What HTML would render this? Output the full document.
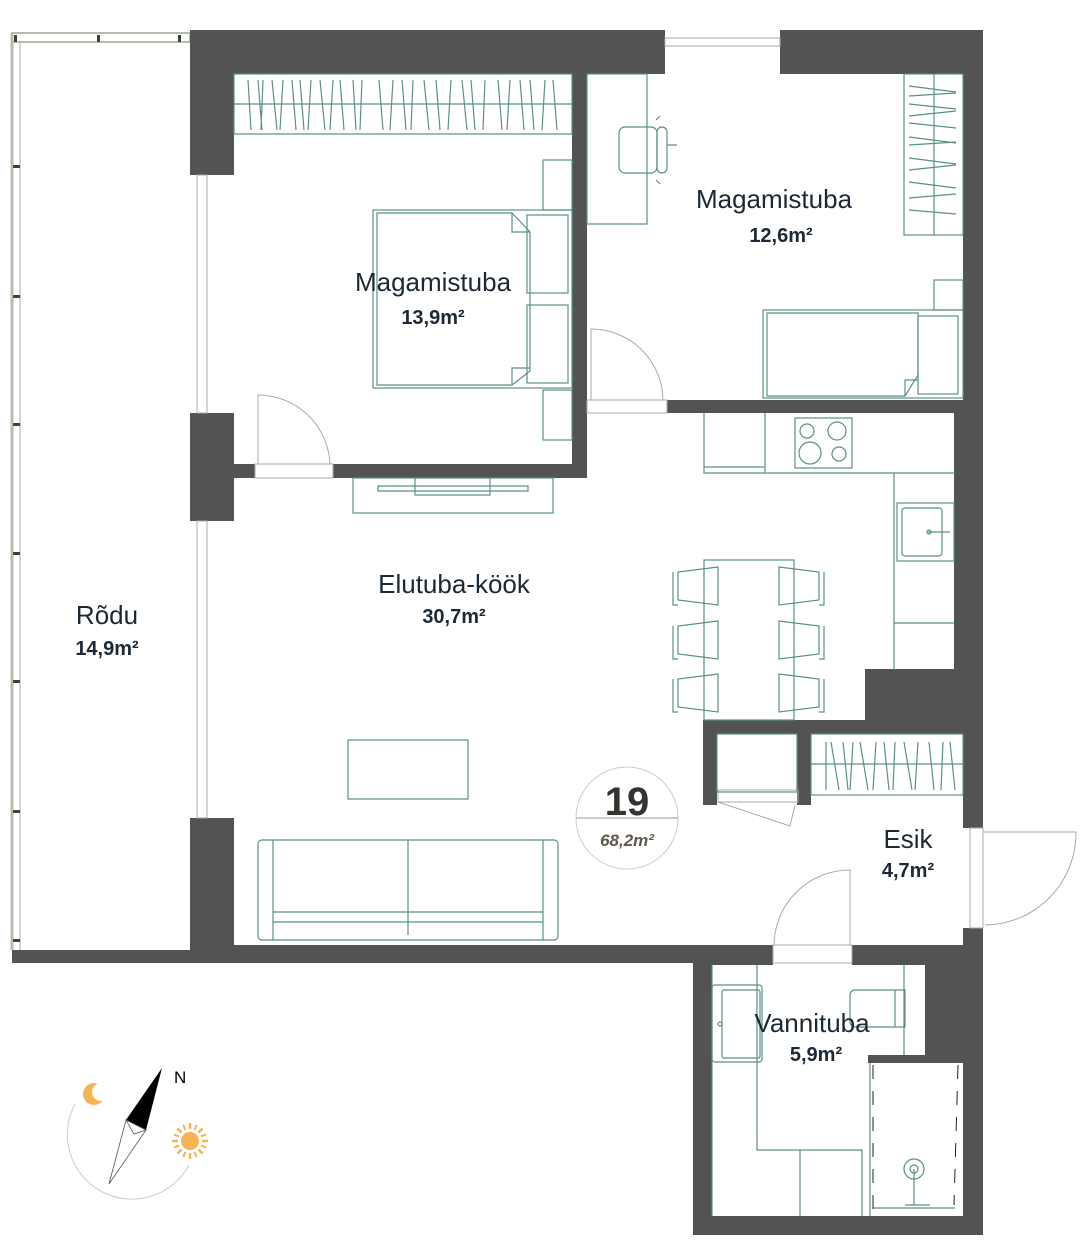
<!DOCTYPE html>
<html><head><meta charset="utf-8"><style>
html,body{margin:0;padding:0;background:#fff;}
svg{display:block;}
.w{fill:#535353;}
.f{fill:none;stroke:#5a8f88;stroke-width:1.2;}
.g{fill:none;stroke:#aaa;stroke-width:1;}
.t{font-family:"Liberation Sans",sans-serif;fill:#1c2833;}
</style></head><body>
<svg width="1089" height="1246" viewBox="0 0 1089 1246" xmlns="http://www.w3.org/2000/svg">
<!-- balcony -->
<rect x="12" y="33" width="178" height="9" fill="none" stroke="#b8bcb0" stroke-width="2"/>
<line x1="12" y1="33" x2="12" y2="950" stroke="#b8bcb0" stroke-width="3"/>
<line x1="20" y1="42" x2="20" y2="950" stroke="#aaa" stroke-width="1"/>
<g fill="#2f4a32">
<rect x="14" y="35" width="3" height="7"/><rect x="97" y="35" width="3" height="7"/><rect x="178" y="35" width="3" height="7"/>
<rect x="13" y="165" width="7" height="3"/><rect x="13" y="295" width="7" height="3"/><rect x="13" y="423" width="7" height="3"/><rect x="13" y="552" width="7" height="3"/><rect x="13" y="680" width="7" height="3"/><rect x="13" y="810" width="7" height="3"/><rect x="13" y="939" width="7" height="3"/>
</g>
<!-- walls -->
<rect class="w" x="12" y="950" width="190" height="13"/>
<rect class="w" x="190" y="30" width="475" height="44"/>
<rect class="w" x="780" y="30" width="203" height="44"/>
<rect class="w" x="190" y="30" width="44" height="145"/>
<rect class="w" x="190" y="413" width="44" height="108"/>
<rect class="w" x="190" y="818" width="44" height="145"/>
<rect class="w" x="234" y="945" width="539" height="18"/>
<rect class="w" x="852" y="945" width="131" height="20"/>
<rect class="w" x="693" y="945" width="80" height="20"/>
<rect class="w" x="963" y="30" width="20" height="798"/>
<rect class="w" x="963" y="928" width="20" height="307"/>
<rect class="w" x="954" y="400" width="29" height="320"/>
<rect class="w" x="865" y="669" width="118" height="51"/>
<rect class="w" x="693" y="945" width="19" height="290"/>
<rect class="w" x="693" y="1216" width="290" height="19"/>
<rect class="w" x="572" y="74" width="15" height="404"/>
<rect class="w" x="234" y="464" width="21" height="14"/>
<rect class="w" x="333" y="464" width="254" height="14"/>
<rect class="w" x="667" y="400" width="296" height="13"/>
<rect class="w" x="703" y="720" width="260" height="14"/>
<rect class="w" x="703" y="720" width="14" height="85"/>
<rect class="w" x="797" y="720" width="14" height="85"/>
<rect class="w" x="925" y="965" width="38" height="90"/>
<rect class="w" x="868" y="1055" width="95" height="8"/>
<!-- windows -->
<rect class="g" x="665" y="38" width="115" height="8"/>
<rect class="g" x="197" y="175" width="10" height="238"/>
<rect class="g" x="197" y="521" width="10" height="297"/>
<!-- doors -->
<g class="g">
<rect x="255" y="464" width="78" height="14"/><path d="M258 464V395A72 72 0 0 1 330 464"/>
<rect x="587" y="400" width="80" height="13"/><path d="M591 400V329A72 72 0 0 1 663 400"/>
<rect x="773" y="945" width="79" height="18"/><path d="M774 945A76 76 0 0 1 850 870V945"/>
<rect x="970" y="828" width="13" height="100"/><path d="M983 832H1076A92 92 0 0 1 985 925"/>
<rect x="718" y="790" width="80" height="12"/><path d="M718 802L790 826L795 805"/>
</g>
<!-- bedroom1 -->
<g class="f">
<rect x="234" y="74" width="338" height="60"/><line x1="234" y1="104" x2="572" y2="104"/>
<path d="M248 80l3 50M258 80l4 50M263 80l-2 50M272 80l5 50M283 80l-3 50M292 80l4 50M300 80l4 50M311 80l-3 50M320 80l5 50M333 80l-3 50M340 80l4 50M353 80l3 50M362 80l-2 50M379 80l4 50M393 80l-3 50M402 80l4 50M413 80l-2 50M424 80l5 50M436 80l4 50M451 80l-3 50M462 80l5 50M471 80l4 50M485 80l-2 50M498 80l4 50M510 80l-3 50M520 80l4 50M530 80l4 50M545 80l-3 50M553 80l4 50"/>
<rect x="543" y="160" width="29" height="50"/><rect x="543" y="390" width="29" height="50"/>
<rect x="373" y="210" width="199" height="178"/>
<path d="M377 213H512L530 232V371L512 385H377Z"/><path d="M512 213V232H530M512 385V368H530"/>
<rect x="527" y="215" width="41" height="78"/><rect x="527" y="305" width="41" height="78"/>
</g>
<!-- bedroom2 -->
<g class="f">
<rect x="587" y="74" width="60" height="150"/>
<rect x="619" y="127" width="38" height="46" rx="6"/><rect x="657" y="127" width="10" height="46" rx="5"/>
<path d="M656 120l4-4M656 180l4 4M667 145h10"/>
<rect x="904" y="74" width="59" height="161"/><line x1="934" y1="74" x2="934" y2="235"/>
<path d="M909 86l47 6M909 96l47-3M909 104l47 5M909 116l47-5M909 123l47 5M909 137l47 6M909 145l47-3M909 158l47 6M909 170l47-5M909 182l47 6M909 198l47-4M909 210l47 4"/>
<rect x="934" y="280" width="29" height="30"/>
<rect x="763" y="310" width="200" height="88"/>
<path d="M767 313H918V375L905 396H767Z"/><path d="M905 396V380H918"/>
<rect x="918" y="316" width="40" height="78"/>
</g>
<!-- kitchen -->
<g class="f">
<path d="M704 413V473H894V670M955 473H894"/>
<line x1="765" y1="413" x2="765" y2="473"/><line x1="704" y1="467" x2="765" y2="467"/>
<rect x="795" y="418" width="57" height="50"/>
<circle cx="807" cy="431" r="7"/><circle cx="837" cy="431" r="9"/><circle cx="810" cy="453" r="11"/><circle cx="839" cy="454" r="7"/>
<rect x="897" y="503" width="57" height="58"/><rect x="902" y="508" width="40" height="48" rx="3"/>
<line x1="894" y1="623" x2="954" y2="623"/>
<line x1="928" y1="532" x2="950" y2="532"/><circle cx="929" cy="532" r="2"/>
<rect x="704" y="560" width="90" height="160"/>
<path d="M718 567l-40 5v28l40 5ZM718 621l-40 5v28l40 5ZM718 674l-40 5v28l40 5Z"/>
<path d="M779 567l40 5v28l-40 5ZM779 621l40 5v28l-40 5ZM779 674l40 5v28l-40 5Z"/>
<path d="M673 572v33h5M673 626v33h5M673 679v33h5M824 572v33h-5M824 626v33h-5M824 679v33h-5"/>
</g>
<!-- closet/wardrobe -->
<g class="f">
<rect x="717" y="734" width="80" height="58"/>
<rect x="811" y="734" width="152" height="61"/><line x1="811" y1="764" x2="963" y2="764"/>
<path d="M826 742v48M831 742l8 48M843 742l5 48M853 742l-3 48M860 742l8 48M876 742l-3 48M884 742l5 48M895 742l-2 48M904 742l8 48M918 742l-3 48M929 742l5 48M943 742l-2 48M950 742l5 48"/>
</g>
<!-- living -->
<g class="f">
<rect x="353" y="478" width="200" height="35"/><rect x="415" y="478" width="75" height="17"/>
<path d="M378 486H528V491H378Z"/>
<rect x="348" y="740" width="120" height="59"/>
<rect x="258" y="840" width="300" height="100" rx="4"/>
<line x1="273" y1="840" x2="273" y2="940"/><line x1="543" y1="840" x2="543" y2="940"/>
<line x1="408" y1="840" x2="408" y2="935"/>
<path d="M273 912H543M273 922H543"/>
</g>
<!-- bath -->
<g class="f">
<line x1="712" y1="965" x2="712" y2="1216"/>
<path d="M757 965V1150H862V1216M800 1150V1216M904 965V1055"/>
<rect x="712" y="985" width="50" height="77" rx="3"/><rect x="722" y="990" width="38" height="68" rx="2"/>
<path d="M850 995a5 5 0 0 1 5-5H905V1027H855a5 5 0 0 1-5-5Z"/><line x1="895" y1="990" x2="895" y2="1027"/>
<line x1="870" y1="1063" x2="870" y2="1216"/>
<path d="M873 1208H955" /><circle cx="914" cy="1169" r="10"/><circle cx="914" cy="1169" r="4"/><path d="M914 1169V1205M905 1205H930"/>
<circle cx="720" cy="1024" r="2"/>
</g>
<path d="M873 1065v145M958 1065l-4 140" stroke="#222" stroke-width="1" fill="none" stroke-dasharray="14 12"/>
<!-- labels -->
<g class="t" text-anchor="middle">
<text x="433" y="291" font-size="26">Magamistuba</text>
<text x="433" y="324" font-size="20" font-weight="bold">13,9m²</text>
<text x="774" y="208" font-size="26">Magamistuba</text>
<text x="781" y="242" font-size="20" font-weight="bold">12,6m²</text>
<text x="454" y="593" font-size="26">Elutuba-köök</text>
<text x="454" y="623" font-size="20" font-weight="bold">30,7m²</text>
<text x="107" y="624" font-size="26">Rõdu</text>
<text x="107" y="655" font-size="20" font-weight="bold">14,9m²</text>
<text x="908" y="848" font-size="26">Esik</text>
<text x="908" y="877" font-size="20" font-weight="bold">4,7m²</text>
<text x="812" y="1032" font-size="26">Vannituba</text>
<text x="816" y="1061" font-size="20" font-weight="bold">5,9m²</text>
</g>
<!-- badge -->
<circle cx="627" cy="818" r="51" fill="#fff" stroke="#ccc" stroke-width="1"/>
<line x1="576" y1="818" x2="678" y2="818" stroke="#999" stroke-width="1"/>
<text x="627" y="815" text-anchor="middle" font-family="Liberation Sans,sans-serif" font-size="40" font-weight="bold" fill="#333330">19</text>
<text x="627" y="846" text-anchor="middle" font-family="Liberation Sans,sans-serif" font-size="17" font-weight="bold" font-style="italic" fill="#5e5848">68,2m²</text>
<!-- compass -->
<path d="M75 1104A63 63 0 1 0 189 1165" fill="none" stroke="#ccc" stroke-width="1"/>
<circle cx="94" cy="1094" r="11" fill="#f5b351"/>
<circle cx="101" cy="1092" r="9" fill="#fff"/>
<polygon points="162,1068 126,1120 146,1130" fill="#000"/>
<polygon points="126,1120 146,1130 109,1184" fill="#fff" stroke="#555" stroke-width="0.8"/>
<polygon points="126,1120 146,1130 134,1134" fill="#fff" stroke="#555" stroke-width="0.8"/>
<text x="174" y="1083" font-family="Liberation Sans,sans-serif" font-size="17" fill="#000">N</text>
<circle cx="190" cy="1141" r="9" fill="#f5b351"/>
<g stroke="#f5b351" stroke-width="2.5" transform="translate(190 1141)">
<path d="M0 -12v-6M0 12v6M-12 0h-6M12 0h6M8.5 -8.5l4 -4M-8.5 8.5l-4 4M-8.5 -8.5l-4 -4M8.5 8.5l4 4"/>
<path d="M4.6 -11l2 -5M-4.6 11l-2 5M11 -4.6l5 -2M-11 4.6l-5 2M-4.6 -11l-2 -5M4.6 11l2 5M11 4.6l5 2M-11 -4.6l-5 -2" stroke-width="2"/>
</g>
</svg>
</body></html>
